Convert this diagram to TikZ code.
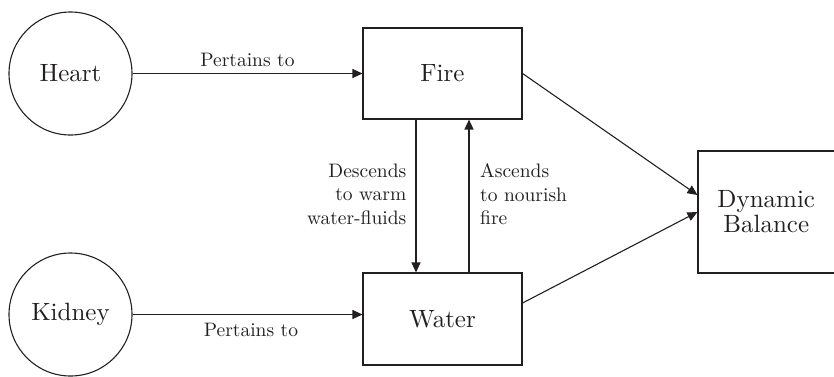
\documentclass[tikz,border=0pt]{standalone}
\usepackage{fontspec}
\setmainfont{lmroman10-regular.otf}
\usetikzlibrary{arrows.meta}
\definecolor{ink}{RGB}{35,31,32}
\begin{document}
\begin{tikzpicture}[
  x=1pt, y=-1pt,
  every node/.style={text=ink},
  organ/.style={draw=ink, line width=1.1pt, circle, minimum size=123pt, inner sep=0pt,
    font=\fontsize{25}{29}\selectfont},
  element/.style={draw=ink, line width=1.1pt, rectangle, inner sep=0pt,
    font=\fontsize{25}{25}\selectfont, align=center},
  note/.style={inner sep=0pt, font=\fontsize{19.5}{23.5}\selectfont},
  arr/.style={draw=ink, line width=1.1pt, -{Triangle[length=10pt, width=9pt]}},
]
\useasboundingbox (0,0) rectangle (834,376);

% organs
\node[organ] (heart)  at (70.5,73.5)  {Heart};
\node[organ] (kidney) at (70.5,314.5) {Kidney};

% elements
\node[element, minimum width=159pt, minimum height=91pt] (fire)  at (442.5,73.5) {Fire};
\node[element, minimum width=159pt, minimum height=92pt] (water) at (442.5,319) {Water};
\node[element, minimum width=136.5pt, minimum height=122pt] (balance) at (766.25,212)
  {Dynamic\\Balance};

% organ to element
\draw[arr] (heart.east) -- (heart.east -| fire.west);
\draw[arr] (kidney.east) -- (kidney.east -| water.west);
\node[note, anchor=base] (lblheart)  at (247.5,66) {Pertains to};
\node[note, anchor=base] (lblkidney) at (251,336)  {Pertains to};

% exchange between fire and water
\draw[arr, line width=1.2pt] ([xshift=-26.5pt]fire.south) -- ([xshift=-26.5pt]water.north);
\draw[arr, line width=1.4pt] ([xshift=26.5pt]water.north) -- ([xshift=26.5pt]fire.south);
\node[note, anchor=north east, align=right] (lbldown) at (406.5,163.5)
  {Descends\\to warm\\water-fluids};
\node[note, anchor=north west, align=left] (lblup) at (480,163.5)
  {Ascends\\to nourish\\fire};

% both feed the balance
\draw[arr] (fire.east) -- ([yshift=17pt]balance.west);
\draw[arr] ([yshift=16pt]water.east) -- (balance.west);
\end{tikzpicture}
\end{document}
